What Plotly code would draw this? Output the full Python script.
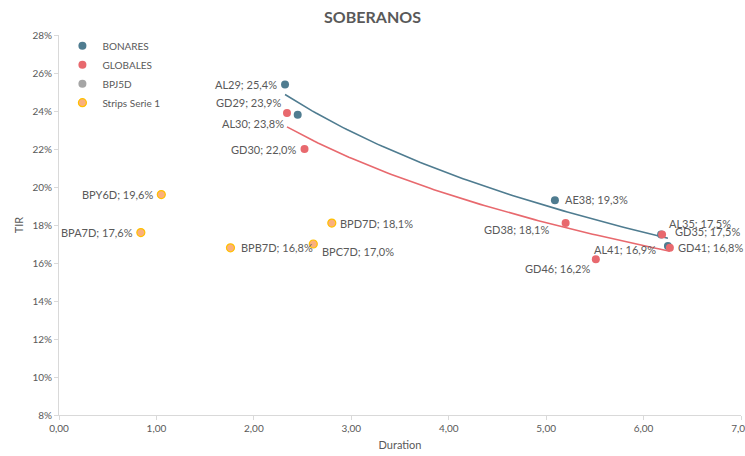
import numpy as np
import plotly.graph_objects as go

# ---- data ----
bonares_names = ["AL29", "AL30", "AE38", "AL35", "AL41"]
bonares_dur = [2.32, 2.45, 5.09, 6.18, 6.25]
bonares_tir = [25.4, 23.8, 19.3, 17.5, 16.9]

globales_names = ["GD29", "GD30", "GD38", "GD46", "GD35", "GD41"]
globales_dur = [2.34, 2.52, 5.20, 5.51, 6.19, 6.27]
globales_tir = [23.9, 22.0, 18.1, 16.2, 17.5, 16.8]

strips_names = ["BPY6D", "BPA7D", "BPB7D", "BPC7D", "BPD7D"]
strips_dur = [1.05, 0.84, 1.76, 2.61, 2.80]
strips_tir = [19.6, 17.6, 16.8, 17.0, 18.1]

x_ticks = [0, 1, 2, 3, 4, 5, 6, 7]
x_tick_labels = ["0,00", "1,00", "2,00", "3,00", "4,00", "5,00", "6,00", "7,00"]
y_ticks = [8, 10, 12, 14, 16, 18, 20, 22, 24, 26, 28]
y_tick_labels = [f"{v}%" for v in y_ticks]

# ---- styles ----
C_BLUE = "#4F7C90"
C_RED = "#E8696E"
C_GRAY = "#A5A5A5"
C_ORANGE = "#FBB07C"
C_ORANGE_LINE = "#FFC000"
TXT = "#595959"
FONT = "Lato"

# label placement: (xanchor, yanchor, xshift, yshift)
label_pos = {
    "AL29": ("right", "middle", -6, 0),
    "AL30": ("right", "middle", -12, -9),
    "AE38": ("left", "middle", 8, 1),
    "AL35": ("left", "middle", 6, 11),
    "AL41": ("right", "middle", -10, -4),
    "GD29": ("right", "middle", -4, 10),
    "GD30": ("right", "middle", -7, 0),
    "GD38": ("right", "middle", -15, -6),
    "GD46": ("right", "middle", -4, -9),
    "GD35": ("left", "middle", 11, 3),
    "GD41": ("left", "middle", 6, 0),
    "BPY6D": ("right", "middle", -6, 0),
    "BPA7D": ("right", "middle", -6, 0),
    "BPB7D": ("left", "middle", 9, 0),
    "BPC7D": ("left", "middle", 7, -7),
    "BPD7D": ("left", "middle", 6, 0),
}

fig = go.Figure()

def fmt(v):
    return f"{v:.1f}".replace(".", ",") + "%"

def log_trend(xs, ys):
    b, a = np.polyfit(np.log(xs), ys, 1)
    xx = np.linspace(min(xs), max(xs), 100)
    return xx, a + b * np.log(xx)

# trendlines
for xs, ys, col in [(bonares_dur, bonares_tir, C_BLUE), (globales_dur, globales_tir, C_RED)]:
    tx, ty = log_trend(xs, ys)
    fig.add_trace(go.Scatter(x=tx, y=ty, mode="lines", line=dict(color=col, width=1.6),
                             showlegend=False, hoverinfo="skip"))

fig.add_trace(go.Scatter(x=bonares_dur, y=bonares_tir, mode="markers", name="BONARES",
                         marker=dict(color=C_BLUE, size=8)))
fig.add_trace(go.Scatter(x=globales_dur, y=globales_tir, mode="markers", name="GLOBALES",
                         marker=dict(color=C_RED, size=8)))
fig.add_trace(go.Scatter(x=[None], y=[None], mode="markers", name="BPJ5D",
                         marker=dict(color=C_GRAY, size=8)))
fig.add_trace(go.Scatter(x=strips_dur, y=strips_tir, mode="markers", name="Strips Serie 1",
                         marker=dict(color=C_ORANGE, size=8, line=dict(color=C_ORANGE_LINE, width=1.2))))

for names, xs, ys in [(bonares_names, bonares_dur, bonares_tir),
                      (globales_names, globales_dur, globales_tir),
                      (strips_names, strips_dur, strips_tir)]:
    for n, x, y in zip(names, xs, ys):
        xa, ya, dx, dy = label_pos[n]
        fig.add_annotation(x=x, y=y, text=f"{n}; {fmt(y)}", showarrow=False,
                           xanchor=xa, yanchor=ya, xshift=dx, yshift=dy,
                           font=dict(family=FONT, size=11, color=TXT))

fig.update_layout(
    width=745, height=456,
    margin=dict(l=59, r=4, t=35, b=41),
    paper_bgcolor="white", plot_bgcolor="white",
    font=dict(family=FONT, color=TXT, size=10),
    title=dict(text="<b>SOBERANOS</b>", x=0.5, xanchor="center", y=0.975, yanchor="top",
               font=dict(family=FONT, size=16, color=TXT)),
    showlegend=True,
    legend=dict(x=0.005, y=1.01, xanchor="left", yanchor="top", bgcolor="rgba(0,0,0,0)",
                font=dict(family=FONT, size=10, color=TXT), itemsizing="trace",
                tracegroupgap=0, itemwidth=30),
)
fig.update_xaxes(range=[0, 7], tickvals=x_ticks, ticktext=x_tick_labels, showgrid=False,
                 zeroline=False, showline=True, linecolor="#D9D9D9", linewidth=1,
                 ticks="outside", tickcolor="#D9D9D9", ticklen=4, ticklabeloverflow="allow",
                 automargin=False,
                 title=dict(text="Duration", font=dict(family=FONT, size=11, color=TXT), standoff=8),
                 tickfont=dict(family=FONT, size=10, color=TXT))
fig.update_yaxes(range=[8, 28], tickvals=y_ticks, ticktext=y_tick_labels, showgrid=False,
                 zeroline=False, showline=True, linecolor="#D9D9D9", linewidth=1,
                 ticks="outside", tickcolor="#D9D9D9", ticklen=4, automargin=False,
                 title=dict(text="TIR", font=dict(family=FONT, size=11, color=TXT), standoff=6),
                 tickfont=dict(family=FONT, size=10, color=TXT))

fig.write_html("out.html", config={"displayModeBar": False},
               post_script="document.body.style.margin='0';")
